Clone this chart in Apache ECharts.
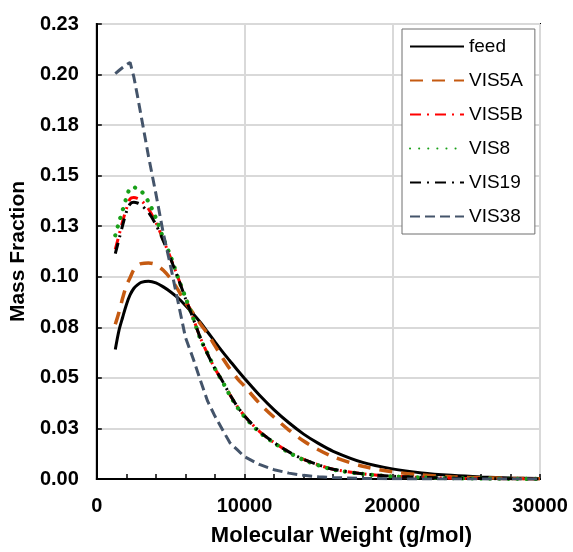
<!DOCTYPE html>
<html>
<head>
<meta charset="utf-8">
<script src="https://cdn.jsdelivr.net/npm/echarts@6/dist/echarts.min.js"></script>
<style>
html,body{margin:0;padding:0;background:#fff;}
#chart{width:573px;height:552px;}
</style>
</head>
<body>
<div id="chart"></div>
<script>
// Molecular weight grid (g/mol)
const mw = [1250,1500,1750,2000,2250,2500,2750,3000,3500,4000,4500,5000,5500,6000,6500,7000,7500,8000,8500,9000,9500,10000,11000,12000,13000,14000,15000,16000,18000,20000,22000,24000,26000,28000,30000];
// Mass fraction series
const feed  = [0.0640,0.0735,0.0800,0.0862,0.0910,0.0942,0.0960,0.0972,0.0978,0.0970,0.0950,0.0925,0.0895,0.0858,0.0818,0.0775,0.0727,0.0678,0.0630,0.0585,0.0540,0.0497,0.0415,0.0342,0.0278,0.0222,0.0176,0.0137,0.0082,0.0050,0.0030,0.0018,0.0010,0.0005,0.0002];
const vis5a = [0.0765,0.0825,0.0895,0.0955,0.0995,0.1035,0.1055,0.1065,0.1068,0.1060,0.1032,0.0990,0.0935,0.0872,0.0822,0.0768,0.0718,0.0658,0.0600,0.0545,0.0498,0.0458,0.0375,0.0305,0.0242,0.0188,0.0145,0.0110,0.0063,0.0036,0.0020,0.0011,0.0006,0.0003,0.0001];
const vis5b = [0.1135,0.1205,0.1275,0.1335,0.1385,0.1392,0.1388,0.1378,0.1335,0.1268,0.1182,0.1092,0.0995,0.0895,0.0800,0.0700,0.0618,0.0545,0.0485,0.0418,0.0360,0.0312,0.0236,0.0180,0.0134,0.0097,0.0070,0.0048,0.0026,0.0014,0.0008,0.0004,0.0002,0.0001,0.0000];
const vis8  = [0.1205,0.1270,0.1330,0.1390,0.1438,0.1442,0.1436,0.1425,0.1370,0.1290,0.1190,0.1100,0.0995,0.0898,0.0800,0.0695,0.0620,0.0545,0.0482,0.0415,0.0356,0.0308,0.0232,0.0178,0.0131,0.0094,0.0068,0.0046,0.0025,0.0013,0.0007,0.0004,0.0002,0.0001,0.0000];
const vis19 = [0.1115,0.1185,0.1255,0.1320,0.1360,0.1368,0.1365,0.1355,0.1318,0.1258,0.1178,0.1088,0.0993,0.0893,0.0798,0.0700,0.0618,0.0545,0.0485,0.0418,0.0360,0.0312,0.0236,0.0180,0.0134,0.0097,0.0070,0.0048,0.0026,0.0014,0.0008,0.0004,0.0002,0.0001,0.0000];
const vis38 = [0.2005,0.2020,0.2035,0.2048,0.2060,0.1990,0.1895,0.1795,0.1595,0.1410,0.1215,0.1050,0.0875,0.0700,0.0600,0.0490,0.0385,0.0310,0.0245,0.0180,0.0145,0.0110,0.0072,0.0046,0.0029,0.0018,0.0011,0.0007,0.0003,0.0001,0.0000,0.0000,0.0000,0.0000,0.0000];
const seriesNames = ['feed','VIS5A','VIS5B','VIS8','VIS19','VIS38'];
const yTickLabels = ['0.00','0.03','0.05','0.08','0.10','0.13','0.15','0.18','0.20','0.23'];
const xTickLabels = ['0','10000','20000','30000'];

const FONT = "'Liberation Sans', Arial, sans-serif";
const pair = ys => mw.map((x, i) => [x, ys[i]]);

const styles = [
  {color:'#000000', width:3,   type:'solid', cap:'butt'},
  {color:'#C55A11', width:3.5, type:[13,9],  cap:'butt'},
  {color:'#FF0000', width:3,   type:[11,6,2,6], cap:'butt'},
  {color:'#18A018', width:4.2, type:[0.1,9], cap:'round'},
  {color:'#000000', width:3,   type:[11,6,2,6], cap:'butt'},
  {color:'#44546A', width:3,   type:[10,5],  cap:'butt'}
];
const dataSets = [feed, vis5a, vis5b, vis8, vis19, vis38];

const chart = echarts.init(document.getElementById('chart'), null, {renderer:'canvas'});
chart.setOption({
  animation:false,
  backgroundColor:'#ffffff',
  grid:{left:96, right:33, top:24, bottom:73, show:true, borderColor:'#000', borderWidth:2, backgroundColor:'transparent'},
  legend:{
    orient:'vertical', left:402, top:29,
    data:seriesNames,
    backgroundColor:'#ffffff', borderColor:'#6f6f6f', borderWidth:1,
    padding:[8,12,8,7], itemWidth:54, itemHeight:14, itemGap:15,
    itemStyle:{opacity:0},
    textStyle:{fontFamily:FONT, fontSize:19, color:'#000'}
  },
  xAxis:{
    type:'value', min:0, max:30000, interval:10000,
    name:'Molecular Weight (g/mol)', nameLocation:'middle', nameGap:46,
    nameTextStyle:{fontFamily:FONT, fontSize:22, fontWeight:'bold', color:'#000', padding:[0,0,0,46]},
    axisLine:{show:true, lineStyle:{color:'#000', width:2}},
    axisTick:{show:true, inside:true, length:5, lineStyle:{color:'#000', width:1.5}},
    minorTick:{show:true, splitNumber:5, length:5, lineStyle:{color:'#000', width:1.5}},
    axisLabel:{fontFamily:FONT, fontSize:20, fontWeight:'bold', color:'#000', margin:17,
      formatter: v => xTickLabels[Math.round(v/10000)]},
    splitLine:{show:true, lineStyle:{color:'#d9d9d9', width:2}}
  },
  yAxis:{
    type:'value', min:0, max:0.225, interval:0.025,
    name:'Mass Fraction', nameLocation:'middle', nameGap:50,
    nameTextStyle:{fontFamily:FONT, fontSize:21, fontWeight:'bold', color:'#000'},
    axisLine:{show:true, lineStyle:{color:'#000', width:2}},
    axisTick:{show:true, inside:true, length:5, lineStyle:{color:'#000', width:1.5}},
    axisLabel:{fontFamily:FONT, fontSize:20, fontWeight:'bold', color:'#000', margin:18,
      formatter: v => yTickLabels[Math.round(v/0.025)]},
    splitLine:{show:true, lineStyle:{color:'#d9d9d9', width:2}}
  },
  series: seriesNames.map((n, i) => ({
    name:n, type:'line', data:pair(dataSets[i]),
    symbol:'none', smooth: i === 5 ? false : 0.3,
    z: 2 + i,
    color: styles[i].color,
    lineStyle:{color:styles[i].color, width:styles[i].width, type:styles[i].type, cap:styles[i].cap}
  }))
});
</script>
</body>
</html>
